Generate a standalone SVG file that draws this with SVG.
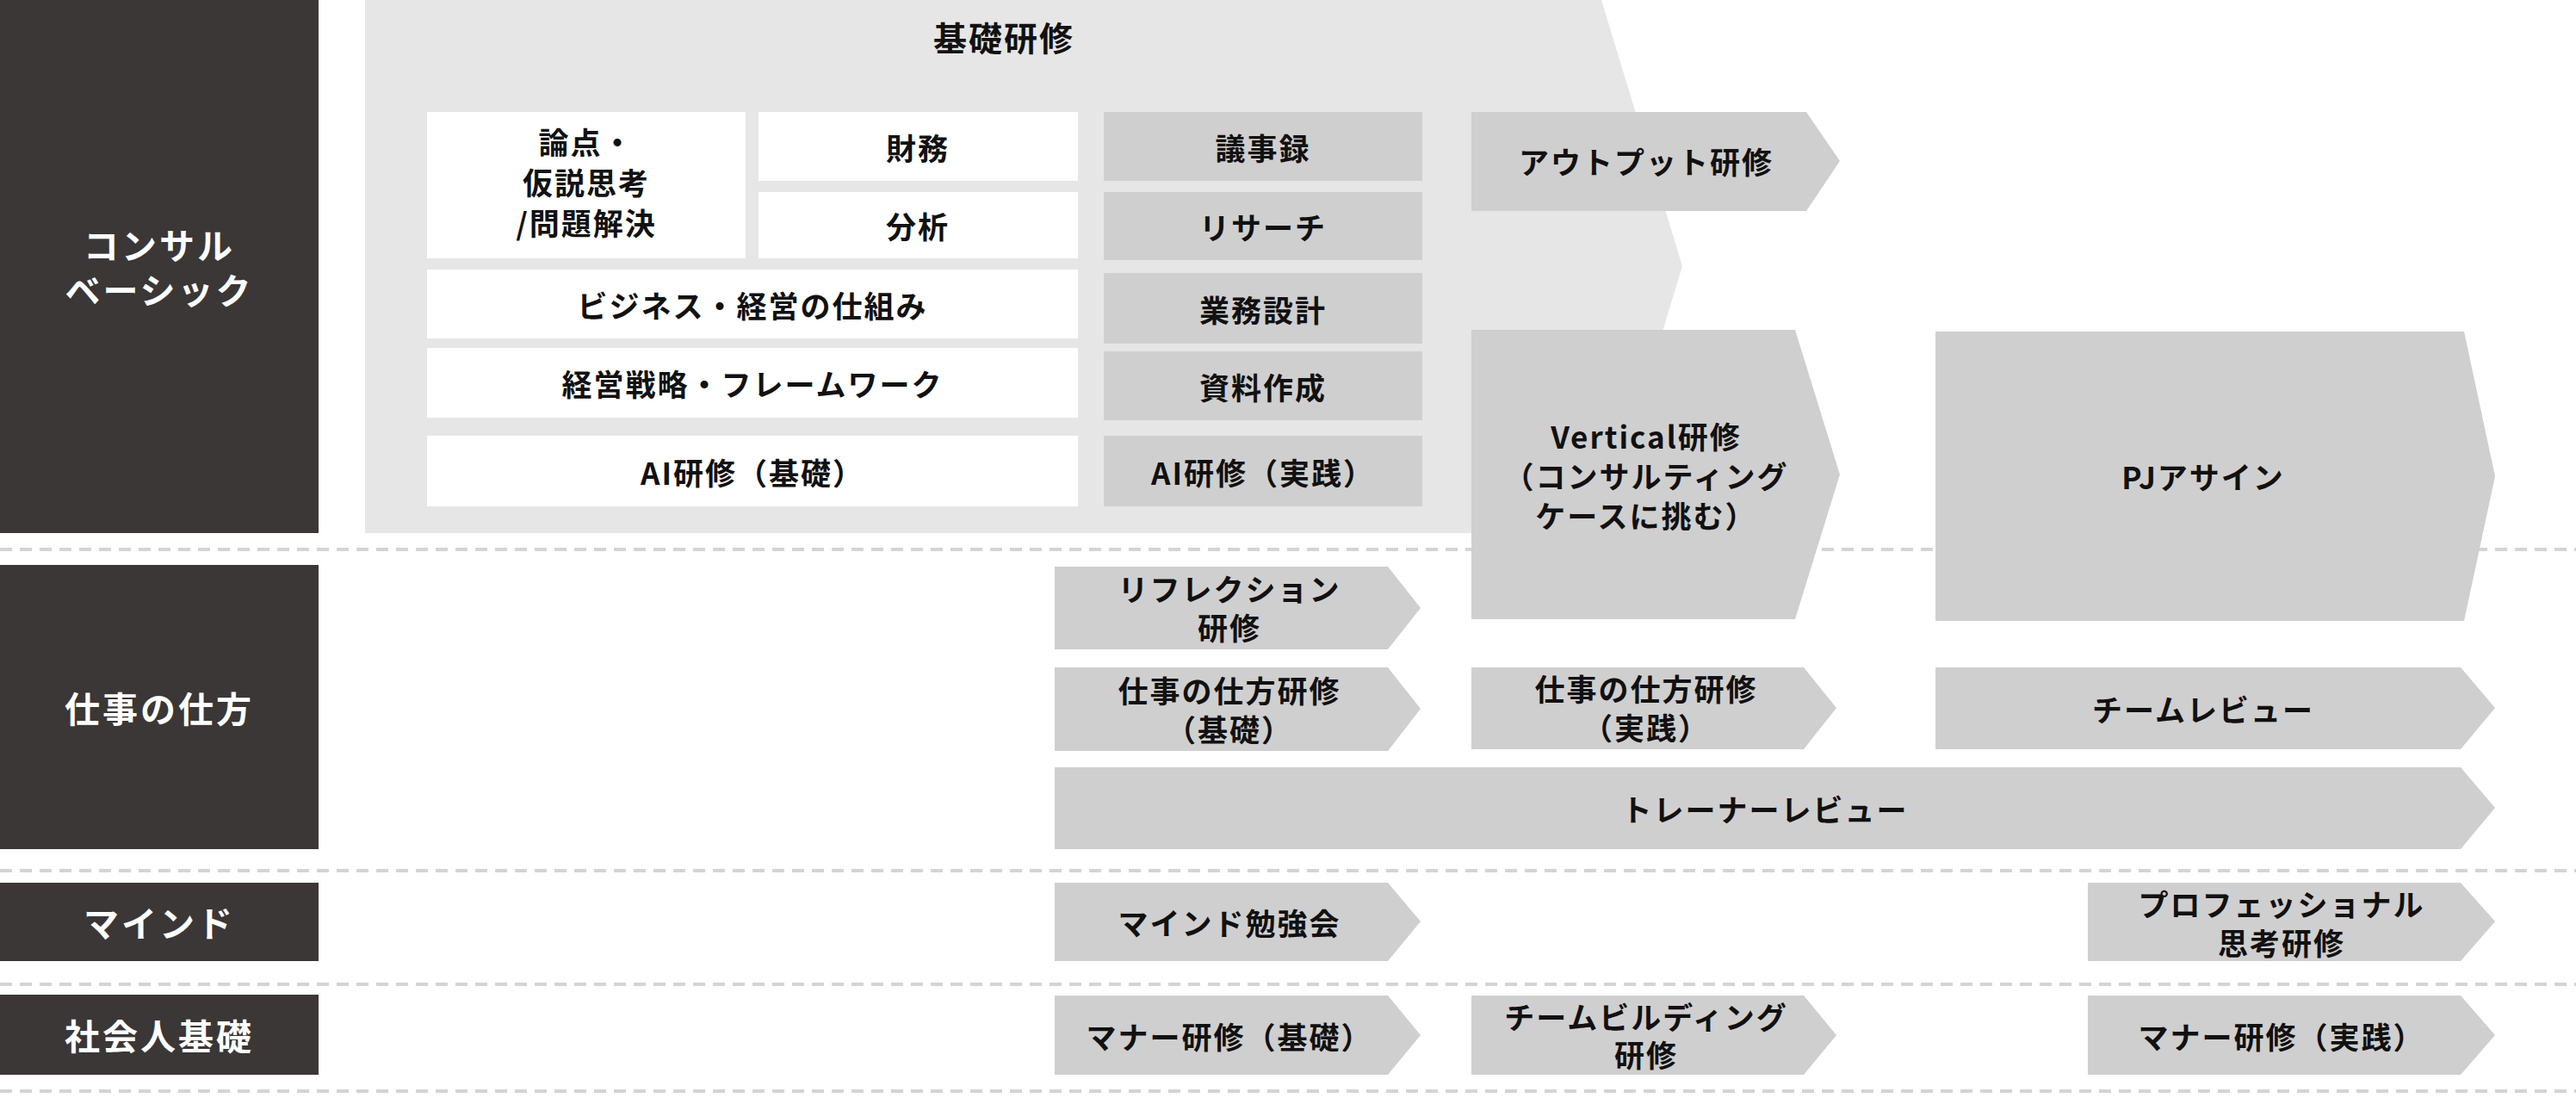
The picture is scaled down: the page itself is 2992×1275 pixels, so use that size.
<svg xmlns="http://www.w3.org/2000/svg" width="2992" height="1275" viewBox="0 0 2992 1275">
<style>
text{font-family:"Noto Sans CJK JP","Noto Sans",sans-serif;font-weight:700;text-anchor:middle;dominant-baseline:central}
.l{fill:#fff;font-size:41px;letter-spacing:3px}
.t{fill:#111;font-size:35px;letter-spacing:2px}
.dk{fill:#3a3736}
.w{fill:#fff}
.g{fill:#d0cfcf}
.dash{stroke:#d4d4d4;stroke-width:4;stroke-dasharray:14 9;fill:none}
</style>
<rect width="2992" height="1275" fill="#fff"/>
<g id="lines">
<line class="dash" x1="0" y1="638" x2="2992" y2="638"/>
<line class="dash" x1="0" y1="1011" x2="2992" y2="1011"/>
<line class="dash" x1="0" y1="1143" x2="2992" y2="1143"/>
<line class="dash" x1="0" y1="1267" x2="2992" y2="1267"/>
</g>
<g id="cat1"><rect class="dk" x="0" y="0" width="370" height="619"/><text class="l" x="185" y="283">コンサル</text><text class="l" x="185" y="335">ベーシック</text></g>
<g id="cat2"><rect class="dk" x="0" y="656" width="370" height="330"/><text class="l" x="185" y="821">仕事の仕方</text></g>
<g id="cat3"><rect class="dk" x="0" y="1025" width="370" height="91"/><text class="l" x="185" y="1070">マインド</text></g>
<g id="cat4"><rect class="dk" x="0" y="1155" width="370" height="93"/><text class="l" x="185" y="1201">社会人基礎</text></g>
<g id="kiso"><polygon fill="#e6e6e6" points="424,0 1860,0 1954,309 1860,619 424,619"/><text class="t" x="1166" y="42" style="font-size:39px">基礎研修</text></g>
<g id="ronten"><rect class="w" x="496" y="130" width="370" height="170"/><text class="t" x="681" y="163">論点・</text><text class="t" x="681" y="210">仮説思考</text><text class="t" x="681" y="257">/問題解決</text></g>
<g id="zaimu"><rect class="w" x="881" y="130" width="371" height="80"/><text class="t" x="1066" y="170">財務</text></g>
<g id="bunseki"><rect class="w" x="881" y="223" width="371" height="77"/><text class="t" x="1066" y="261">分析</text></g>
<g id="biz"><rect class="w" x="496" y="313" width="756" height="80"/><text class="t" x="874" y="353">ビジネス・経営の仕組み</text></g>
<g id="senryaku"><rect class="w" x="496" y="404" width="756" height="81"/><text class="t" x="874" y="444">経営戦略・フレームワーク</text></g>
<g id="aikiso"><rect class="w" x="496" y="506" width="756" height="82"/><text class="t" x="874" y="547">AI研修（基礎）</text></g>
<g id="gijiroku"><rect class="g" x="1282" y="130" width="370" height="80"/><text class="t" x="1467" y="170">議事録</text></g>
<g id="research"><rect class="g" x="1282" y="223" width="370" height="79"/><text class="t" x="1467" y="262">リサーチ</text></g>
<g id="gyomu"><rect class="g" x="1282" y="317" width="370" height="82"/><text class="t" x="1467" y="358">業務設計</text></g>
<g id="shiryo"><rect class="g" x="1282" y="408" width="370" height="80"/><text class="t" x="1467" y="448">資料作成</text></g>
<g id="aijissen"><rect class="g" x="1282" y="506" width="370" height="82"/><text class="t" x="1467" y="547">AI研修（実践）</text></g>
<g id="output"><polygon class="g" points="1709,130 2098,130 2137,187 2098,245 1709,245"/><text class="t" x="1912" y="186">アウトプット研修</text></g>
<g id="vertical"><polygon class="g" points="1709,383 2085,383 2137,551 2085,719 1709,719"/><text class="t" x="1912" y="505">Vertical研修</text><text class="t" x="1912" y="551">（コンサルティング</text><text class="t" x="1912" y="597">ケースに挑む）</text></g>
<g id="pj"><polygon class="g" points="2248,385 2862,385 2898,553 2862,721 2248,721"/><text class="t" x="2559" y="552">PJアサイン</text></g>
<g id="reflection"><polygon class="g" points="1225,658 1612,658 1650,706 1612,754 1225,754"/><text class="t" x="1428" y="682">リフレクション</text><text class="t" x="1428" y="727">研修</text></g>
<g id="shigotokiso"><polygon class="g" points="1225,775 1612,775 1650,823 1612,872 1225,872"/><text class="t" x="1428" y="800">仕事の仕方研修</text><text class="t" x="1428" y="845">（基礎）</text></g>
<g id="shigotojissen"><polygon class="g" points="1709,775 2095,775 2133,822 2095,870 1709,870"/><text class="t" x="1912" y="798">仕事の仕方研修</text><text class="t" x="1912" y="843">（実践）</text></g>
<g id="teamreview"><polygon class="g" points="2248,775 2858,775 2898,822 2858,870 2248,870"/><text class="t" x="2559" y="822">チームレビュー</text></g>
<g id="trainer"><polygon class="g" points="1225,891 2858,891 2898,938 2858,986 1225,986"/><text class="t" x="2050" y="938">トレーナーレビュー</text></g>
<g id="mind"><polygon class="g" points="1225,1025 1612,1025 1650,1070 1612,1116 1225,1116"/><text class="t" x="1428" y="1070">マインド勉強会</text></g>
<g id="pro"><polygon class="g" points="2425,1025 2858,1025 2898,1070 2858,1116 2425,1116"/><text class="t" x="2650" y="1048">プロフェッショナル</text><text class="t" x="2650" y="1093">思考研修</text></g>
<g id="mannerkiso"><polygon class="g" points="1225,1156 1612,1156 1650,1202 1612,1248 1225,1248"/><text class="t" x="1428" y="1202">マナー研修（基礎）</text></g>
<g id="teambuilding"><polygon class="g" points="1709,1156 2095,1156 2133,1202 2095,1248 1709,1248"/><text class="t" x="1912" y="1179">チームビルディング</text><text class="t" x="1912" y="1223">研修</text></g>
<g id="mannerjissen"><polygon class="g" points="2425,1156 2858,1156 2898,1202 2858,1248 2425,1248"/><text class="t" x="2650" y="1202">マナー研修（実践）</text></g>
</svg>
